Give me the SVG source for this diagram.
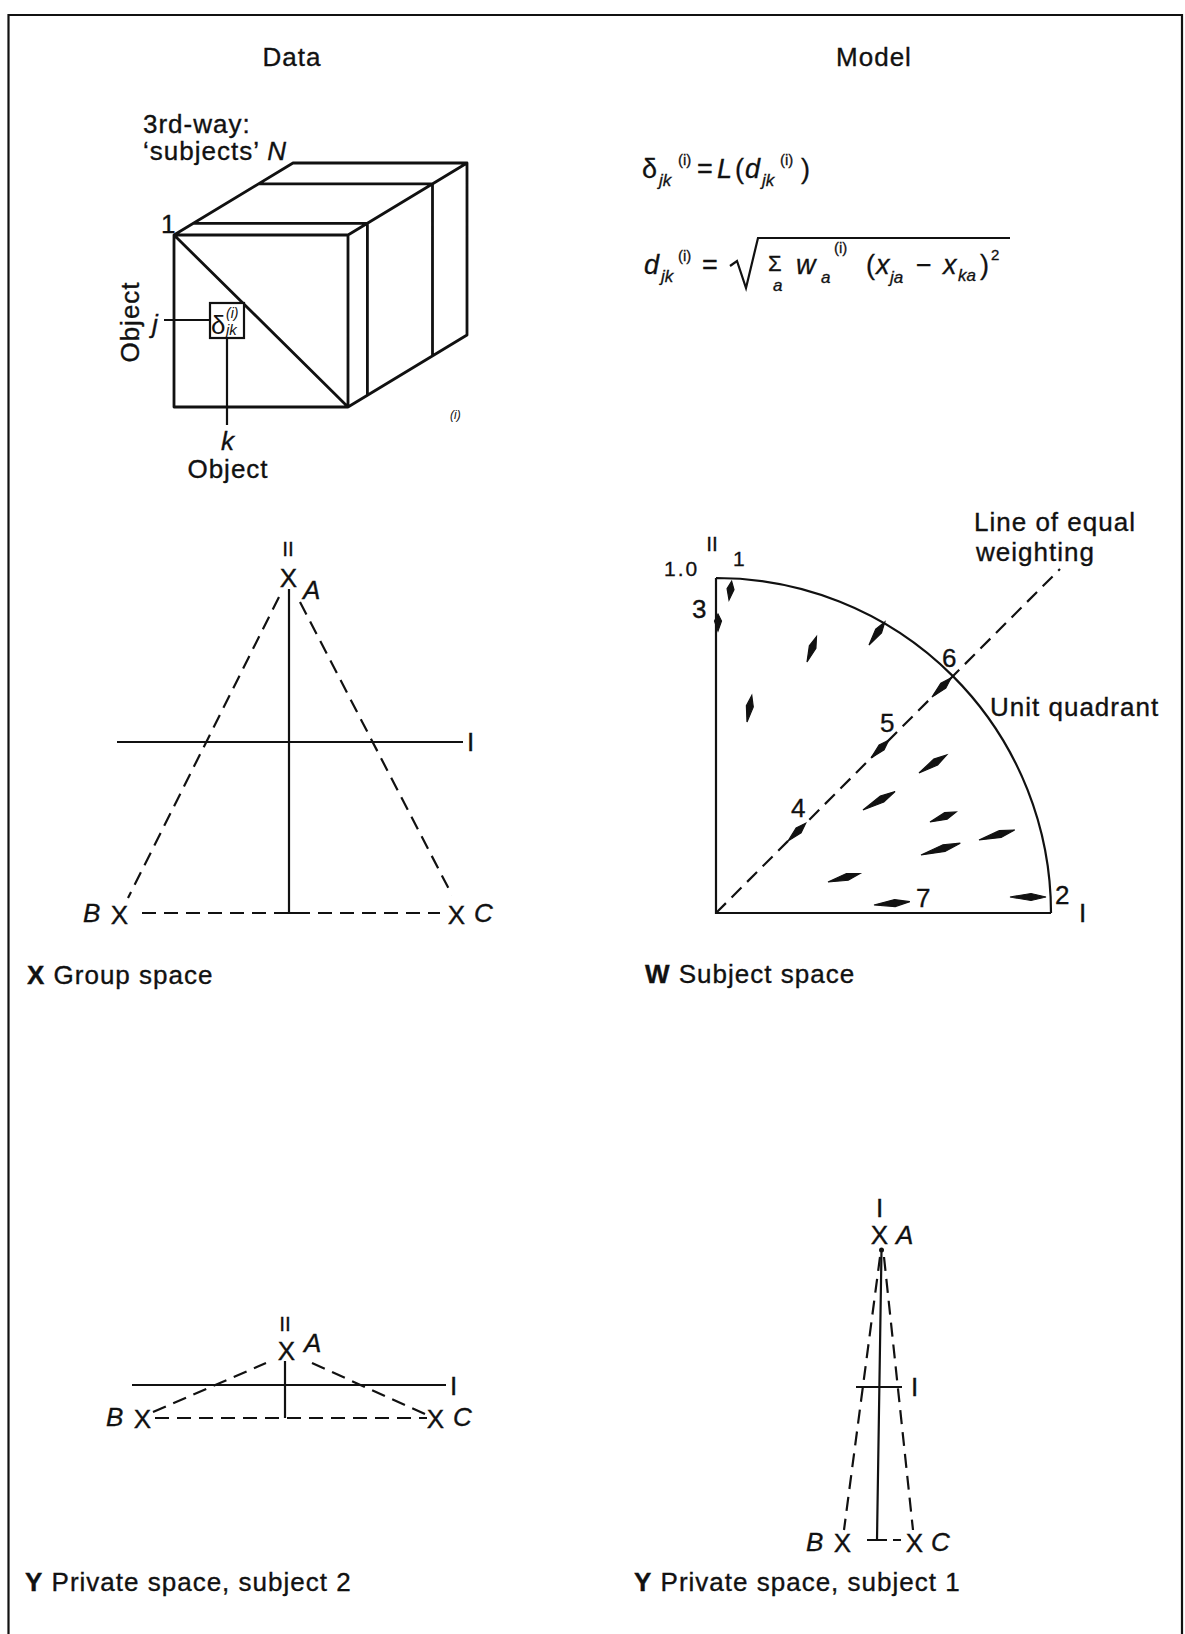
<svg xmlns="http://www.w3.org/2000/svg" width="1185" height="1634" viewBox="0 0 1185 1634">
<style>
text{font-family:"Liberation Sans",Arial,sans-serif;fill:#111}
.lbl{font-size:26px;letter-spacing:1px;stroke:#111;stroke-width:0.35px}
.sm{font-size:21px;stroke:#111;stroke-width:0.3px}
.it{font-style:italic}
.b{font-weight:bold}
.ln{stroke:#111;stroke-width:2.2;fill:none}
.cube{stroke:#111;stroke-width:2.8;fill:none;stroke-linejoin:round}
.dash{stroke:#111;stroke-width:2.2;fill:none;stroke-dasharray:14 8}
.mid{text-anchor:middle}
.f{font-size:27px;stroke:#111;stroke-width:0.3px}
.sub{font-size:17px;font-style:italic}
.sup{font-size:15px}
.arr{fill:#111;stroke:#111;stroke-width:1.2}
</style>
<rect width="1185" height="1634" fill="#fff"/>
<g id="frame"><path class="ln" d="M8.5,1634 V15 H1182 V1634" stroke-width="2.6"/></g>
<g id="headings">
<text class="lbl mid" x="292" y="66">Data</text>
<text class="lbl mid" x="874" y="66">Model</text>
</g>
<g id="cube">
<text class="lbl" x="143" y="133">3rd-way:</text>
<text class="lbl" x="143" y="160">‘subjects’ <tspan class="it">N</tspan></text>
<path class="cube" d="M174,235 H348 V407 H174 Z M174,235 L348,407 M174,235 L293,163 H467 V335 L348,407 M348,235 L467,163 M193.4,223.3 H367.4 V395.3 M258.5,183.9 H432.5 V355.9"/>
<text class="lbl" x="161" y="233">1</text>
<text class="lbl mid" transform="translate(139,322) rotate(-90)">Object</text>
<path class="ln" d="M164,320 H210 M227,338 V425"/>
<rect x="210" y="303" width="34" height="35" fill="#fff" stroke="#111" stroke-width="2.2"/>
<text x="211" y="334" font-size="26">δ</text>
<text x="226" y="318" font-size="14" class="it">(i)</text>
<text x="226" y="335" font-size="15" class="it">jk</text>
<text class="lbl it" x="152" y="333">j</text>
<text class="lbl it mid" x="228" y="450">k</text>
<text class="lbl mid" x="228" y="478">Object</text>
<text class="it" x="450" y="419" font-size="12">(i)</text>
</g>
<g id="formulas">
<text class="f" y="178"><tspan x="642">δ</tspan><tspan class="sub" x="659" y="186">jk</tspan><tspan class="sup" x="678" y="165">(i)</tspan><tspan x="697" y="178">=</tspan><tspan class="it" x="717">L</tspan><tspan x="735">(</tspan><tspan class="it" x="745">d</tspan><tspan class="sub" x="762" y="186">jk</tspan><tspan class="sup" x="780" y="165">(i)</tspan><tspan x="801" y="178">)</tspan></text>
<text class="f" y="274"><tspan class="it" x="644">d</tspan><tspan class="sub" x="661" y="282">jk</tspan><tspan class="sup" x="678" y="261">(i)</tspan><tspan x="702" y="274">=</tspan><tspan x="768" y="271" font-size="22">Σ</tspan><tspan class="sub" x="773" y="291" font-size="15">a</tspan><tspan class="it" x="796" y="274">w</tspan><tspan class="sub" x="821" y="283">a</tspan><tspan class="sup" x="834" y="253">(i)</tspan><tspan x="866" y="274">(</tspan><tspan class="it" x="876">x</tspan><tspan class="sub" x="890" y="283">ja</tspan><tspan x="916" y="274">−</tspan><tspan class="it" x="943">x</tspan><tspan class="sub" x="958" y="281">ka</tspan><tspan x="980" y="274">)</tspan><tspan class="sup" x="991" y="260" font-size="18">2</tspan></text>
<path class="ln" d="M730,266 L737,261 L746,288 L758,238 H1010" stroke-width="2.4"/>
</g>
<g id="group-space">
<text class="sm mid" x="288" y="556">II</text>
<text class="lbl mid" x="289" y="587" letter-spacing="0" stroke-width="0">X</text>
<text class="lbl it" x="303" y="599">A</text>
<path class="ln" d="M289,589 V913 M283,913 H296"/>
<path class="ln" d="M117,742 H463" stroke-width="2.8"/>
<text class="lbl" x="467" y="751">I</text>
<path class="dash" d="M279,597 L128,898 M300,602 L452,895 M142,913 H440"/>
<text class="lbl it" x="83" y="922">B</text>
<text class="lbl mid" x="120" y="924" letter-spacing="0" stroke-width="0">X</text>
<text class="lbl mid" x="457" y="924" letter-spacing="0" stroke-width="0">X</text>
<text class="lbl it" x="474" y="922">C</text>
<text class="lbl" x="27" y="984"><tspan class="b">X</tspan> Group space</text>
</g>
<g id="subject-space">
<text class="sm mid" x="712" y="551">II</text>
<text class="sm" x="664" y="576" letter-spacing="2">1.0</text>
<text class="sm" x="733" y="566">1</text>
<text class="lbl" x="692" y="618">3</text>
<path class="ln" d="M716,578 V913 H1051 M716,578 A335,335 0 0 1 1051,913"/>
<path class="dash" d="M716,913 L1060,569"/>
<text class="lbl" x="974" y="531">Line of equal</text>
<text class="lbl" x="976" y="561">weighting</text>
<text class="lbl" x="990" y="716">Unit quadrant</text>
<text class="lbl" x="942" y="667">6</text>
<text class="lbl" x="880" y="732">5</text>
<text class="lbl" x="791" y="817">4</text>
<text class="lbl" x="916" y="907">7</text>
<text class="lbl" x="1055" y="904">2</text>
<text class="lbl" x="1079" y="922">I</text>
<g class="arr">
<path transform="translate(729,600) rotate(-82)" d="M0,0 L11,-3.5 L19,0 L11,3.5 Z"/>
<path transform="translate(718,631) rotate(-90)" d="M0,0 L10,-3.5 L17,0 L10,3.5 Z"/>
<path transform="translate(869,645) rotate(-55.5)" d="M0,0 L17,-3.5 L28,0 L17,3.5 Z"/>
<path transform="translate(807,662) rotate(-69.4)" d="M0,0 L16,-3.5 L27,0 L16,3.5 Z"/>
<path transform="translate(747,722) rotate(-79.8)" d="M0,0 L16,-3.5 L27,0 L16,3.5 Z"/>
<path transform="translate(932,697) rotate(-45)" d="M0,0 L16,-3.5 L27,0 L16,3.5 Z"/>
<path transform="translate(871,758) rotate(-45)" d="M0,0 L15,-3.5 L25,0 L15,3.5 Z"/>
<path transform="translate(788,841) rotate(-45)" d="M0,0 L15,-3.5 L25,0 L15,3.5 Z"/>
<path transform="translate(919,773) rotate(-33.2)" d="M0,0 L20,-3.5 L33,0 L20,3.5 Z"/>
<path transform="translate(863,810) rotate(-29.9)" d="M0,0 L22,-3.5 L37,0 L22,3.5 Z"/>
<path transform="translate(930,822) rotate(-21)" d="M0,0 L17,-3.5 L28,0 L17,3.5 Z"/>
<path transform="translate(979,840) rotate(-15.7)" d="M0,0 L22,-3.5 L37,0 L22,3.5 Z"/>
<path transform="translate(921,855) rotate(-16.7)" d="M0,0 L24,-3.5 L41,0 L24,3.5 Z"/>
<path transform="translate(828,882) rotate(-14.8)" d="M0,0 L20,-3.5 L33,0 L20,3.5 Z"/>
<path transform="translate(874,905) rotate(-5.3)" d="M0,0 L21,-3.5 L36,0 L21,3.5 Z"/>
<path transform="translate(1010,897)" d="M0,0 L21,-3.5 L36,0 L21,3.5 Z"/>
</g>
<text class="lbl" x="645" y="983"><tspan class="b">W</tspan> Subject space</text>
</g>
<g id="private-space-2">
<text class="sm mid" x="285" y="1331">II</text>
<text class="lbl mid" x="287" y="1360" letter-spacing="0" stroke-width="0">X</text>
<text class="lbl it" x="304" y="1352">A</text>
<path class="ln" d="M285,1361 V1418"/>
<path class="ln" d="M132,1385 H446" stroke-width="2.6"/>
<text class="lbl" x="450" y="1395">I</text>
<path class="dash" d="M153,1412 L266,1363 M312,1363 L427,1415 M155,1418 H427"/>
<text class="lbl it" x="106" y="1426">B</text>
<text class="lbl mid" x="143" y="1428" letter-spacing="0" stroke-width="0">X</text>
<text class="lbl mid" x="436" y="1428" letter-spacing="0" stroke-width="0">X</text>
<text class="lbl it" x="453" y="1426">C</text>
<text class="lbl" x="25" y="1591"><tspan class="b">Y</tspan> Private space, subject 2</text>
</g>
<g id="private-space-1">
<text class="lbl mid" x="880" y="1217">I</text>
<text class="lbl mid" x="880" y="1244" letter-spacing="0" stroke-width="0">X</text>
<text class="lbl it" x="896" y="1244">A</text>
<circle cx="881.5" cy="1250" r="2.5" fill="#111"/>
<path class="ln" d="M881.5,1250 L877,1540 M867,1540 H887"/>
<path class="ln" d="M856,1387 H902" stroke-width="2.6"/>
<text class="lbl" x="911" y="1396">I</text>
<path class="dash" d="M880,1257 L844,1530 M884,1257 L913,1530 M893,1540 H901"/>
<text class="lbl it" x="806" y="1551">B</text>
<text class="lbl mid" x="843" y="1552" letter-spacing="0" stroke-width="0">X</text>
<text class="lbl mid" x="915" y="1552" letter-spacing="0" stroke-width="0">X</text>
<text class="lbl it" x="931" y="1551">C</text>
<text class="lbl" x="634" y="1591"><tspan class="b">Y</tspan> Private space, subject 1</text>
</g>
</svg>
